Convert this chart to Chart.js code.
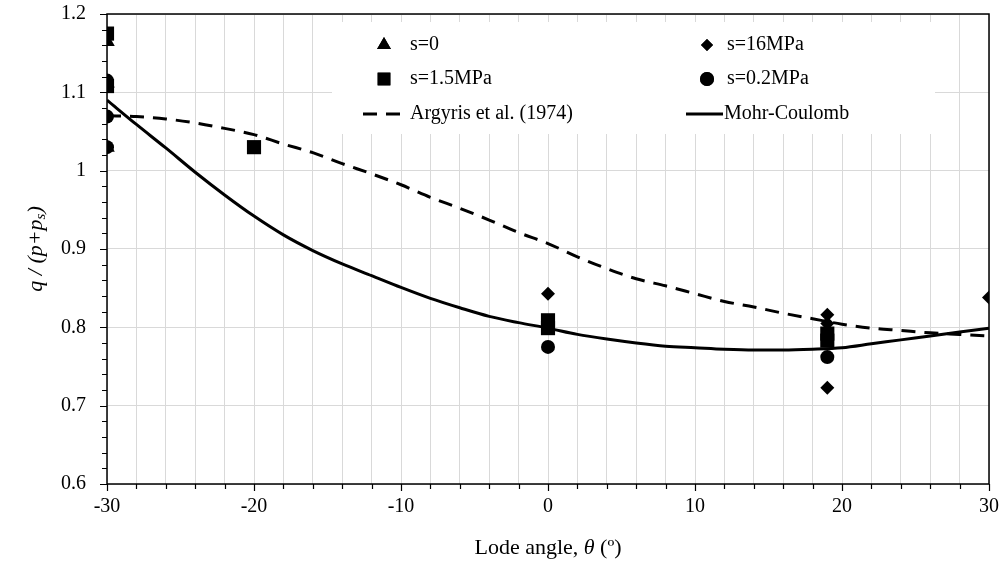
<!DOCTYPE html>
<html>
<head>
<meta charset="utf-8">
<script src="https://cdn.jsdelivr.net/npm/chart.js@4.4.0/dist/chart.umd.min.js"></script>
<style>
  html, body { margin: 0; padding: 0; background: #fff; }
</style>
</head>
<body>
<canvas id="chartCanvas" width="1006" height="565"></canvas>
<script>
// test results: Lode angle (deg) and q/(p+ps)
var s0X = [-30, -30, -30];
var s0Y = [1.165, 1.112, 1.030];
var s15X = [-30, -30, -20, 0, 0, 19, 19];
var s15Y = [1.175, 1.108, 1.030, 0.809, 0.799, 0.792, 0.783];
var s16X = [0, 19, 19, 19, 30];
var s16Y = [0.843, 0.816, 0.805, 0.723, 0.838];
var s02X = [-30, -30, -30, 0, 19];
var s02Y = [1.115, 1.069, 1.030, 0.775, 0.762];

// failure criteria
var curveX = [-30, -28, -26, -24, -22, -20, -18, -16, -14, -12, -10, -8, -6, -4, -2, 0,
              2, 4, 6, 8, 10, 12, 14, 16, 18, 20, 22, 24, 26, 28, 30];
var argyrisY = [1.070, 1.069, 1.066, 1.061, 1.054, 1.046, 1.034, 1.023, 1.009, 0.996, 0.982,
                0.966, 0.952, 0.937, 0.921, 0.907, 0.890, 0.875, 0.862, 0.853, 0.843, 0.833,
                0.826, 0.818, 0.811, 0.804, 0.799, 0.796, 0.793, 0.791, 0.789];
var mohrY = [1.090, 1.059, 1.029, 0.998, 0.969, 0.942, 0.918, 0.898, 0.881, 0.866, 0.851,
             0.837, 0.825, 0.814, 0.806, 0.799, 0.791, 0.785, 0.780, 0.776, 0.774, 0.772,
             0.771, 0.771, 0.772, 0.774, 0.779, 0.784, 0.789, 0.794, 0.799];

var xTicks = [-30, -20, -10, 0, 10, 20, 30];
var yTicks = [0.6, 0.7, 0.8, 0.9, 1.0, 1.1, 1.2];

var serif = '"Liberation Serif", "Times New Roman", serif';
var fontSize = 20;
var titleSize = 22;

function pts(xs, ys) {
    var out = [];
    for (var i = 0; i < xs.length; i++) out.push({ x: xs[i], y: ys[i] });
    return out;
}

function isMajorY(v) {
    return Math.abs(v * 10 - Math.round(v * 10)) < 1e-6;
}

var legendItems = [
    { label: 's=0', style: 'triangle', r: 8, col: 0, row: 0 },
    { label: 's=16MPa', style: 'rectRot', r: 6, col: 1, row: 0 },
    { label: 's=1.5MPa', style: 'rect', r: 9, col: 0, row: 1 },
    { label: 's=0.2MPa', style: 'circle', r: 7, col: 1, row: 1 },
    { label: 'Argyris et al. (1974)', dash: true, col: 0, row: 2 },
    { label: 'Mohr-Coulomb', line: true, col: 1, row: 2 }
];

var framePlugin = {
    id: 'frame',
    beforeDatasetsDraw: function (chart) {
        var c = chart.ctx;
        var a = chart.chartArea;
        var xs = chart.scales.x, ys = chart.scales.y;
        c.save();
        // legend backdrop hides the grid behind it
        c.fillStyle = '#fff';
        c.fillRect(332, 22, 603, 112);
        c.strokeStyle = '#000';
        c.lineWidth = 1.5;
        c.beginPath();
        c.moveTo(a.left, a.top); c.lineTo(a.right, a.top);
        c.lineTo(a.right, a.bottom); c.lineTo(a.left, a.bottom);
        c.closePath();
        c.stroke();
        c.lineWidth = 1.2;
        c.beginPath();
        ys.ticks.forEach(function (t) {
            var py = Math.round(ys.getPixelForValue(t.value)) + 0.5;
            var len = isMajorY(t.value) ? 7 : 5;
            c.moveTo(a.left - len, py); c.lineTo(a.left, py);
        });
        xs.ticks.forEach(function (t) {
            var px = Math.round(xs.getPixelForValue(t.value)) + 0.5;
            var len = t.value % 10 === 0 ? 7 : 5;
            c.moveTo(px, a.bottom); c.lineTo(px, a.bottom + len);
        });
        c.stroke();

        // tick labels
        c.fillStyle = '#000';
        c.font = fontSize + 'px ' + serif;
        c.textBaseline = 'middle';
        c.textAlign = 'right';
        yTicks.forEach(function (v) {
            c.fillText(String(v), 86, ys.getPixelForValue(v));
        });
        c.textAlign = 'center';
        xTicks.forEach(function (v) {
            c.fillText(String(v), xs.getPixelForValue(v), 507);
        });
        c.restore();
    },
    afterDraw: function (chart) {
        var c = chart.ctx;
        var a = chart.chartArea;
        c.save();
        c.fillStyle = '#000';
        c.strokeStyle = '#000';
        c.textBaseline = 'middle';
        c.font = fontSize + 'px ' + serif;
        var colX = [384, 707];
        var rowY = [45, 79, 114];
        legendItems.forEach(function (it) {
            var mx = colX[it.col], my = rowY[it.row];
            if (it.dash) {
                c.lineWidth = 3;
                c.setLineDash([14, 9]);
                c.beginPath(); c.moveTo(363, my); c.lineTo(400, my); c.stroke();
                c.setLineDash([]);
            } else if (it.line) {
                c.lineWidth = 3;
                c.beginPath(); c.moveTo(686, my); c.lineTo(723, my); c.stroke();
            } else {
                Chart.helpers.drawPoint(c, { pointStyle: it.style, radius: it.r, borderWidth: 0 }, mx, my);
                c.fill();
            }
            c.textAlign = 'left';
            var tx = it.line ? 724 : (it.col === 0 ? 410 : 727);
            c.fillText(it.label, tx, my);
        });

        // x title
        var cx = (a.left + a.right) / 2, ty = 548;
        var p1 = 'Lode angle, ', p2 = '\u03b8', p3 = ' (\u00ba)';
        c.font = titleSize + 'px ' + serif;
        var w1 = c.measureText(p1).width, w3 = c.measureText(p3).width;
        c.font = 'italic ' + titleSize + 'px ' + serif;
        var w2 = c.measureText(p2).width;
        var x0 = cx - (w1 + w2 + w3) / 2;
        c.textAlign = 'left';
        c.font = titleSize + 'px ' + serif;
        c.fillText(p1, x0, ty);
        c.font = 'italic ' + titleSize + 'px ' + serif;
        c.fillText(p2, x0 + w1, ty);
        c.font = titleSize + 'px ' + serif;
        c.fillText(p3, x0 + w1 + w2, ty);

        // y title, rotated
        c.translate(36, (a.top + a.bottom) / 2);
        c.rotate(-Math.PI / 2);
        var q1 = 'q / (p+p', q2 = 's', q3 = ')';
        var sub = Math.round(titleSize * 0.7);
        c.font = 'italic ' + titleSize + 'px ' + serif;
        var v1 = c.measureText(q1).width, v3 = c.measureText(q3).width;
        c.font = 'italic ' + sub + 'px ' + serif;
        var v2 = c.measureText(q2).width;
        var y0 = -(v1 + v2 + v3) / 2;
        c.font = 'italic ' + titleSize + 'px ' + serif;
        c.fillText(q1, y0, 0);
        c.font = 'italic ' + sub + 'px ' + serif;
        c.fillText(q2, y0 + v1, 5);
        c.font = 'italic ' + titleSize + 'px ' + serif;
        c.fillText(q3, y0 + v1 + v2, 0);
        c.restore();
    }
};

var ctx = document.getElementById('chartCanvas').getContext('2d');
var myChart = new Chart(ctx, {
    type: 'scatter',
    data: {
        datasets: [
            {
                label: 'Argyris et al. (1974)',
                data: pts(curveX, argyrisY),
                showLine: true,
                borderColor: '#000',
                borderWidth: 3,
                borderDash: [14, 9],
                pointRadius: 0,
                cubicInterpolationMode: 'monotone'
            },
            {
                label: 'Mohr-Coulomb',
                data: pts(curveX, mohrY),
                showLine: true,
                borderColor: '#000',
                borderWidth: 3,
                pointRadius: 0,
                cubicInterpolationMode: 'monotone'
            },
            {
                label: 's=16MPa',
                data: pts(s16X, s16Y),
                pointStyle: 'rectRot',
                pointRadius: 7,
                backgroundColor: '#000',
                borderWidth: 0
            },
            {
                label: 's=1.5MPa',
                data: pts(s15X, s15Y),
                pointStyle: 'rect',
                pointRadius: 10,
                backgroundColor: '#000',
                borderWidth: 0
            },
            {
                label: 's=0',
                data: pts(s0X, s0Y),
                pointStyle: 'triangle',
                pointRadius: 9,
                backgroundColor: '#000',
                borderWidth: 0
            },
            {
                label: 's=0.2MPa',
                data: pts(s02X, s02Y),
                pointStyle: 'circle',
                pointRadius: 7,
                backgroundColor: '#000',
                borderWidth: 0
            }
        ]
    },
    options: {
        responsive: false,
        animation: false,
        layout: { padding: { top: 14, right: 17, left: 0, bottom: 0 } },
        plugins: {
            legend: { display: false },
            tooltip: { enabled: false }
        },
        scales: {
            x: {
                type: 'linear',
                min: -30,
                max: 30,
                afterFit: function (s) { s.height = 81; },
                afterBuildTicks: function (s) {
                    var t = [];
                    for (var v = -30; v <= 30; v += 2) t.push({ value: v });
                    s.ticks = t;
                },
                ticks: { display: false, autoSkip: false },
                grid: { color: '#d9d9d9', lineWidth: 1, drawTicks: false },
                border: { display: false }
            },
            y: {
                min: 0.6,
                max: 1.2,
                afterFit: function (s) { s.width = 107; },
                afterBuildTicks: function (s) {
                    var t = [];
                    for (var i = 0; i <= 30; i++) t.push({ value: Math.round((0.6 + i * 0.02) * 100) / 100 });
                    s.ticks = t;
                },
                ticks: { display: false, autoSkip: false },
                grid: {
                    color: function (c) { return c.tick && isMajorY(c.tick.value) ? '#d9d9d9' : 'rgba(0,0,0,0)'; },
                    lineWidth: 1,
                    drawTicks: false
                },
                border: { display: false }
            }
        }
    },
    plugins: [framePlugin]
});
</script>
</body>
</html>
